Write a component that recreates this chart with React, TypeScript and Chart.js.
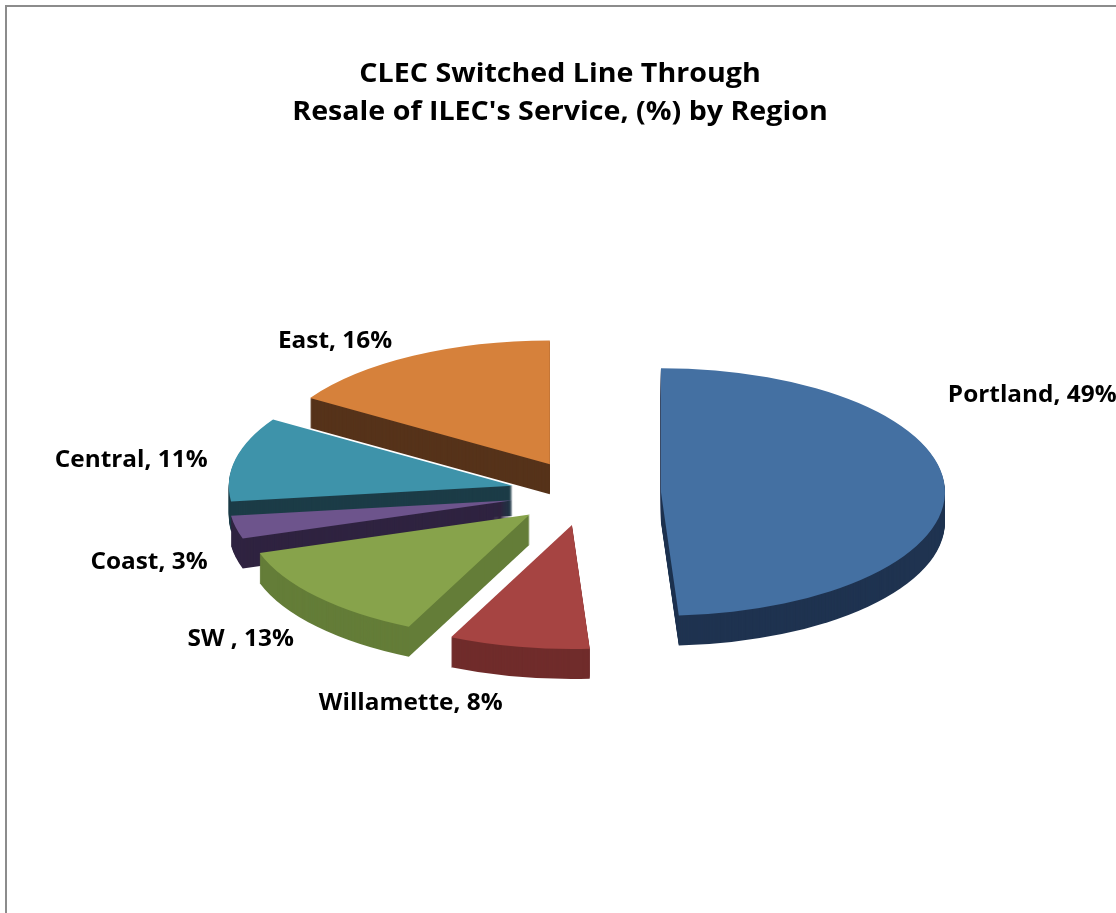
import React, { useEffect, useRef } from "react";
import { Chart, registerables } from "chart.js";

Chart.register(...registerables);

// ---- data ----
const TITLE_LINES = ["CLEC Switched Line Through", "Resale of ILEC's Service, (%) by Region"];
const REGIONS = ["Portland", "Willamette", "SW ", "Coast", "Central", "East"];
const SHARES = [49, 8, 13, 3, 11, 16];

// ---- style ----
const TOP_COLORS = ["#4470a2", "#a64442", "#87a34b", "#6d548c", "#3e93aa", "#d6813b"];
const WALL_COLORS = ["#1f3350", "#702c2b", "#647d38", "#2f2340", "#1c3c47", "#56331a"];
const LABEL_ALIGN: CanvasTextAlign[] = ["left", "center", "center", "right", "right", "center"];
const LABEL_SHIFT: [number, number][] = [[3, -94], [-108, 55], [-76, 41], [-28, 34], [-28, 0], [-78, -16]];

const TILT = 0.436;
const DEPTH = 30;
const EXPLODE = 75;
const RADIUS = 284;
const FONT = '"Open Sans", "Noto Sans", sans-serif';
const TITLE_SIZE = 27;
const LABEL_SIZE = 23;
const SX = 1.06;

function stretchedText(ctx: CanvasRenderingContext2D, text: string, x: number, y: number, align: CanvasTextAlign) {
  ctx.save();
  ctx.translate(x, y);
  ctx.scale(SX, 1);
  ctx.textAlign = align;
  ctx.textBaseline = "alphabetic";
  ctx.fillText(text, 0, 0);
  ctx.restore();
}

const pie3d = {
  id: "pie3d",
  beforeDraw(chart: any) {
    const ctx: CanvasRenderingContext2D = chart.ctx;
    ctx.save();
    ctx.fillStyle = "#ffffff";
    ctx.fillRect(0, 0, chart.width, chart.height);
    ctx.fillStyle = "#8c8c8c";
    ctx.fillRect(5, 5, 2, chart.height);
    ctx.fillRect(5, 5, chart.width, 2);
    ctx.restore();
  },
  beforeDatasetsDraw(chart: any) {
    const ctx: CanvasRenderingContext2D = chart.ctx;
    const meta = chart.getDatasetMeta(0);
    const arcs = meta.data.map((el: any, i: number) => ({ el, i, mid: (el.startAngle + el.endAngle) / 2 }));
    arcs.sort((a: any, b: any) => Math.sin(a.mid) - Math.sin(b.mid));
    for (const { el, i, mid } of arcs) {
      const { x, y, startAngle, endAngle, outerRadius } = el.getProps(["x", "y", "startAngle", "endAngle", "outerRadius"], true);
      const ex = Math.cos(mid) * EXPLODE;
      const ey = Math.sin(mid) * EXPLODE;
      for (let k = DEPTH; k >= 1; k--) {
        ctx.save();
        ctx.translate(0, k);
        ctx.translate(x, y);
        ctx.scale(1, TILT);
        ctx.translate(-x, -y);
        ctx.translate(ex, ey);
        ctx.beginPath();
        ctx.moveTo(x, y);
        ctx.arc(x, y, outerRadius, startAngle, endAngle);
        ctx.closePath();
        ctx.fillStyle = WALL_COLORS[i];
        ctx.fill();
        ctx.restore();
      }
      ctx.save();
      ctx.translate(x, y);
      ctx.scale(1, TILT);
      ctx.translate(-x, -y);
      ctx.translate(ex, ey);
      el.draw(ctx);
      ctx.restore();
    }
    return false;
  },
  afterDraw(chart: any) {
    const ctx: CanvasRenderingContext2D = chart.ctx;
    ctx.save();
    ctx.fillStyle = "#000000";
    ctx.font = `bold ${TITLE_SIZE}px ${FONT}`;
    const cx = chart.width / 2 + 2;
    stretchedText(ctx, TITLE_LINES[0], cx, 82, "center");
    stretchedText(ctx, TITLE_LINES[1], cx, 120, "center");

    ctx.font = `bold ${LABEL_SIZE}px ${FONT}`;
    const meta = chart.getDatasetMeta(0);
    meta.data.forEach((el: any, i: number) => {
      const { x, y, startAngle, endAngle, outerRadius } = el.getProps(["x", "y", "startAngle", "endAngle", "outerRadius"], true);
      const mid = (startAngle + endAngle) / 2;
      const r = outerRadius + EXPLODE;
      const ax = x + Math.cos(mid) * r + LABEL_SHIFT[i][0];
      const ay = y + Math.sin(mid) * r * TILT + LABEL_SHIFT[i][1];
      const text = `${REGIONS[i]}, ${SHARES[i]}%`;
      stretchedText(ctx, text, ax, ay + (LABEL_SIZE * 0.714) / 2, LABEL_ALIGN[i]);
    });
    ctx.restore();
  },
};

export default function App() {
  const ref = useRef<HTMLCanvasElement | null>(null);
  useEffect(() => {
    if (!ref.current) return;
    const chart = new Chart(ref.current, {
      type: "pie",
      data: {
        labels: REGIONS,
        datasets: [
          {
            data: SHARES,
            backgroundColor: TOP_COLORS,
            borderWidth: 0,
            radius: RADIUS,
          } as any,
        ],
      },
      options: {
        animation: false,
        responsive: true,
        maintainAspectRatio: false,
        events: [],
        layout: { padding: { left: 56, top: 73, right: 0, bottom: 0 } },
        plugins: {
          legend: { display: false },
          title: { display: false },
          tooltip: { enabled: false },
        },
      },
      plugins: [pie3d as any],
    });
    return () => chart.destroy();
  }, []);
  return (
    <div style={{ position: "fixed", left: 0, top: 0, width: 1116, height: 913, background: "#fff" }}>
      <canvas ref={ref} />
    </div>
  );
}
